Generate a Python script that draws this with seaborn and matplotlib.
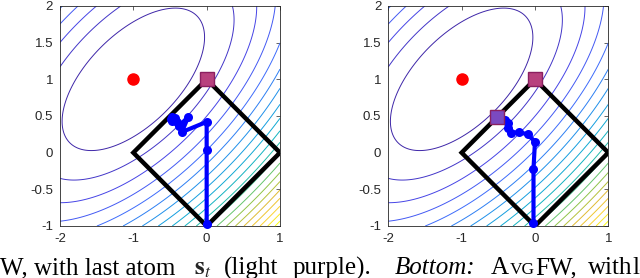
"""Frank-Wolfe vs AvgFW paths on a quadratic over the L1 ball."""

import numpy as np
import matplotlib.pyplot as plt
import seaborn as sns
from matplotlib.colors import LinearSegmentedColormap

# quadratic objective f(x) = dx^2 + dy^2 - 2*beta*dx*dy, centred at the unconstrained optimum
center = (-1.0, 1.0)
beta = 0.59
level_step = 0.615
n_levels = 21

# L1 ball vertices (closed)
ball_x = [1, 0, -1, 0, 1]
ball_y = [0, 1, 0, -1, 0]

# Frank-Wolfe iterates (left panel)
fw_x = [0.0, 0.0, 0.0, -0.34, -0.25, -0.38, -0.47, -0.40, -0.49, -0.43, -0.47, -0.44, -0.46]
fw_y = [-0.97, 0.03, 0.42, 0.28, 0.49, 0.36, 0.49, 0.42, 0.46, 0.47, 0.43, 0.46, 0.45]

# AvgFW iterates (right panel)
avg_x = [-0.02, -0.02, 0.0, -0.10, -0.22, -0.33, -0.37, -0.37, -0.41, -0.45]
avg_y = [-0.96, -0.22, 0.15, 0.25, 0.28, 0.27, 0.33, 0.40, 0.44, 0.46]

# last atoms
atom_left_x, atom_left_y = [0.0], [1.0]
atom_right_x, atom_right_y = [0.0, -0.52], [1.0, 0.48]
atom_colors = ["#b8427e", "#7b4ac0"]

x_ticks = [-2, -1, 0, 1]
y_ticks = [-1, -0.5, 0, 0.5, 1, 1.5, 2]

# caption fragment cropped from the paper (justified line, placed word by word)
caption_left = "W, with last atom"
caption_atom = r"$\mathbf{s}_t$"
caption_mid = ["(light", "purple)."]
caption_italic = "Bottom:"
caption_smallcaps = ["A", "VG", "FW,"]
caption_tail = ["with", "la"]

parula = LinearSegmentedColormap.from_list("parula", [
    (0.00, (0.2422, 0.1504, 0.6603)),
    (0.10, (0.2760, 0.2650, 0.9000)),
    (0.20, (0.2500, 0.4100, 0.9900)),
    (0.30, (0.1300, 0.5500, 0.9300)),
    (0.40, (0.0600, 0.6500, 0.8500)),
    (0.50, (0.0800, 0.7200, 0.7200)),
    (0.60, (0.3000, 0.7700, 0.5000)),
    (0.70, (0.6000, 0.7700, 0.2500)),
    (0.80, (0.9000, 0.7300, 0.2000)),
    (0.90, (0.9900, 0.8300, 0.1900)),
    (1.00, (0.9769, 0.9839, 0.0805)),
])

sns.set_theme(style="white")
plt.rcParams["font.family"] = ["Liberation Sans", "DejaVu Sans"]
plt.rcParams["mathtext.fontset"] = "stix"
plt.rcParams["axes.unicode_minus"] = False

gx, gy = np.meshgrid(np.linspace(-2, 1, 400), np.linspace(-1, 2, 400))
dx, dy = gx - center[0], gy - center[1]
fz = dx ** 2 + dy ** 2 - 2 * beta * dx * dy
levels = level_step * np.arange(1, n_levels)


def draw_panel(ax, path_x, path_y, sq_x, sq_y):
    ax.contour(gx, gy, fz, levels=levels, cmap=parula, vmin=levels[0], vmax=levels[-1],
               linewidths=0.7, zorder=1)
    ax.plot(ball_x, ball_y, color="black", lw=3.2, zorder=2, solid_joinstyle="miter")
    sns.lineplot(x=path_x, y=path_y, sort=False, estimator=None, ax=ax, color="blue", lw=3,
                 marker="o", markersize=6.5, markeredgewidth=0, zorder=3, clip_on=False)
    ax.plot(center[0], center[1], "o", color="red", ms=8, mec="red", zorder=4)
    for i, (sx, sy) in enumerate(zip(sq_x, sq_y)):
        ax.plot(sx, sy, "s", color=atom_colors[i], ms=9.5, mec="#8a2060", mew=1, zorder=5)
    ax.set_xlim(-2, 1)
    ax.set_ylim(-1, 2)
    ax.set_xticks(x_ticks)
    ax.set_xticklabels([f"{v:g}" for v in x_ticks])
    ax.set_yticks(y_ticks)
    ax.set_yticklabels([f"{v:g}" for v in y_ticks])
    ax.tick_params(direction="in", length=3, width=0.5, colors="#262626", labelsize=9.5,
                   top=True, right=True, pad=5)
    for sp in ax.spines.values():
        sp.set_linewidth(0.6)
        sp.set_color("#262626")


fig = plt.figure(figsize=(6.4, 2.78), dpi=100)
ax1 = fig.add_axes([60 / 640, 52 / 278, 220 / 640, 220 / 278])
ax2 = fig.add_axes([388.3 / 640, 52 / 278, 220 / 640, 220 / 278])
draw_panel(ax1, fw_x, fw_y, atom_left_x, atom_left_y)
draw_panel(ax2, avg_x, avg_y, atom_right_x, atom_right_y)

base = 3.5 / 278
cap = dict(fontsize=18, family="Liberation Serif", va="baseline", color="black")
fig.text(0, base, caption_left, **cap)
fig.text(194 / 640, base, caption_atom, fontsize=18, va="baseline")
fig.text(224 / 640, base, caption_mid[0], **cap)
fig.text(293 / 640, base, caption_mid[1], **cap)
fig.text(395 / 640, base, caption_italic, style="italic", **cap)

renderer = fig.canvas.get_renderer()
x_px = 491
for piece in caption_smallcaps:
    size = 12.5 if piece == "VG" else 18
    t = fig.text(x_px / 640, base, piece, **{**cap, "fontsize": size})
    x_px = t.get_window_extent(renderer).x1 + 0.5
fig.text(588 / 640, base, caption_tail[0], **cap)
fig.text(632 / 640, base, caption_tail[1], **cap)

fig.savefig("out.png", dpi=100)
